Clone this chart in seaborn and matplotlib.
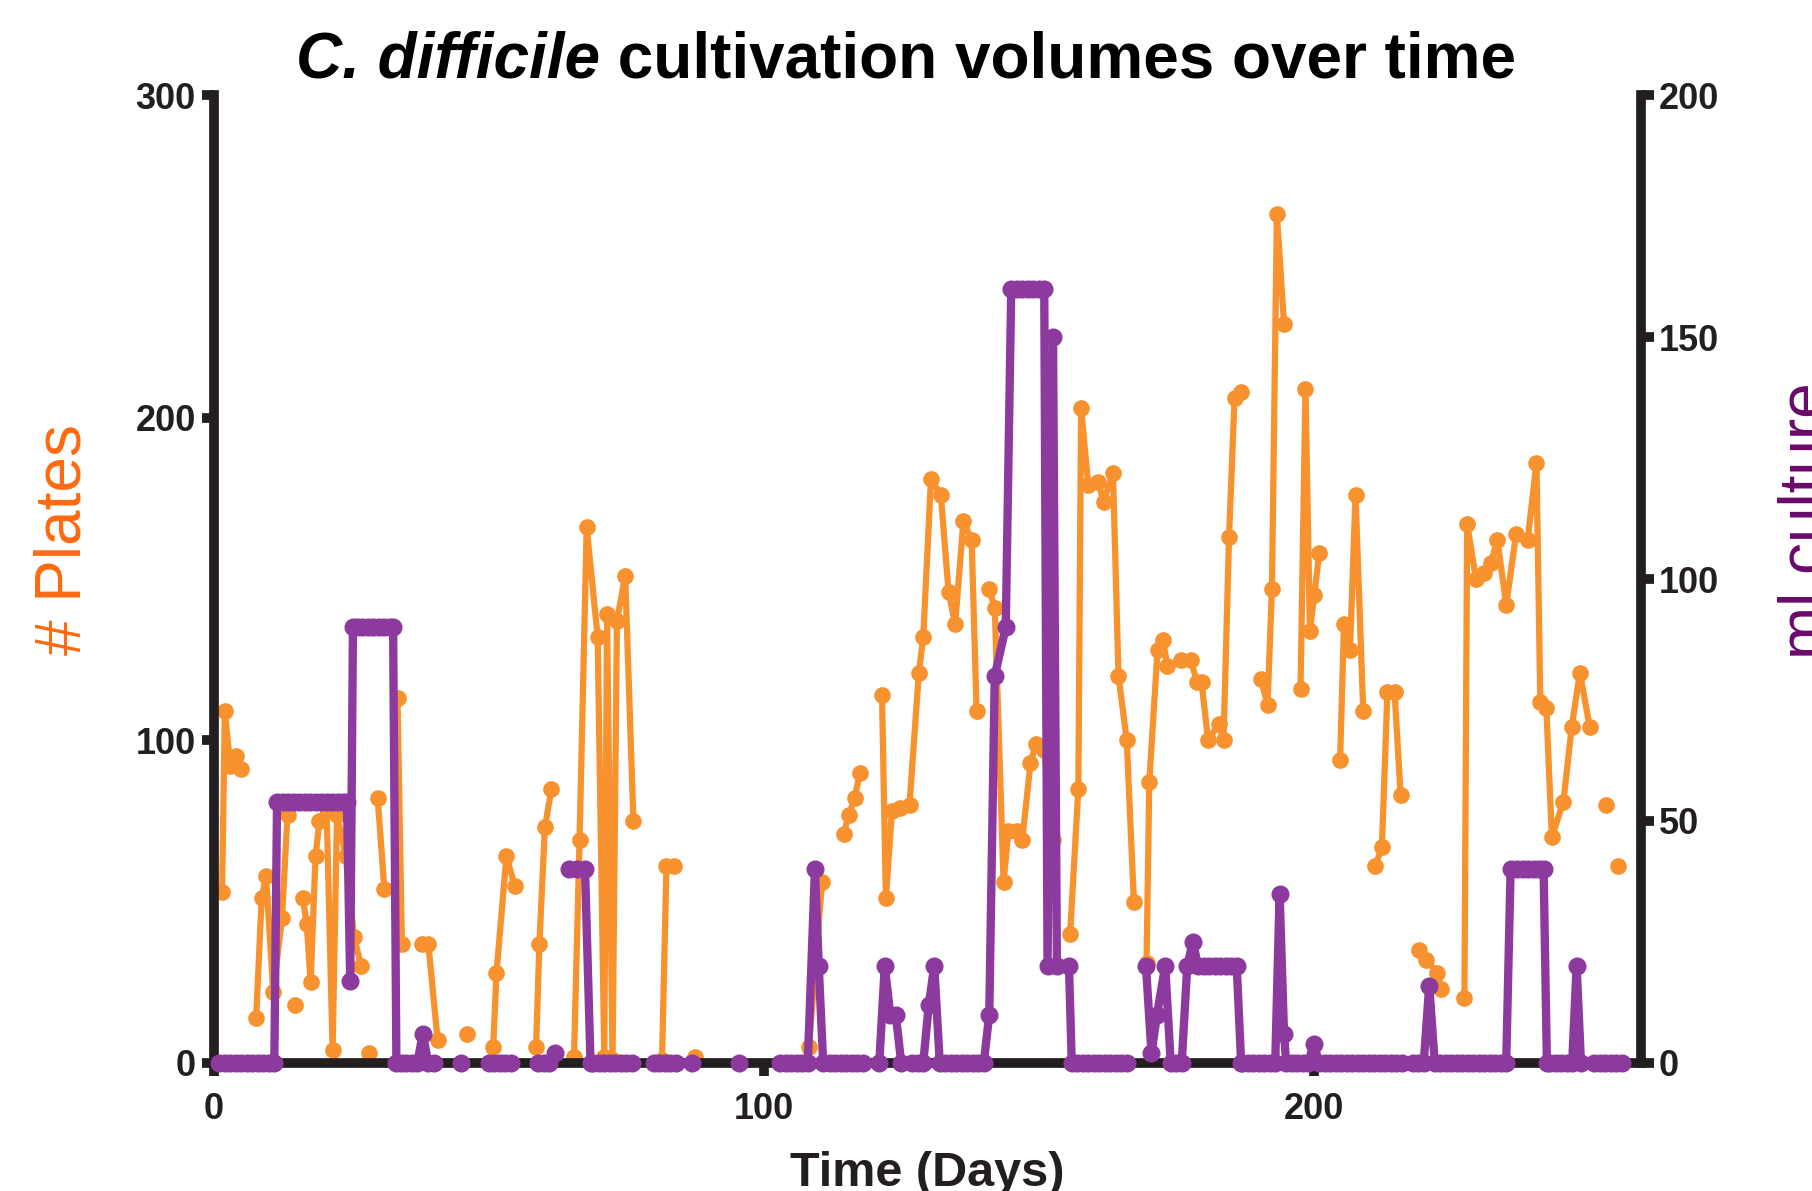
import matplotlib
matplotlib.use("Agg")
import matplotlib.pyplot as plt
import numpy as np
import pandas as pd
import seaborn as sns

nan = float("nan")

# ---------------- data ----------------
plate_days = [1.5, 2, 3, 4, 5, 6, 7.7, 8.7, 9.5, 10.8, 12.4, 13.4, 14, 14.8, 15.3,
              16.2, 16.9, 17.6, 18.5, 19.2, 20.5, 21.6, 22.4, 24, 25.5, 26.8, 27.2,
              28.3, 28.8, 29.8, 31, 32, 33.4, 34.2, 35, 37.8, 39, 40.7, 41.5, 46, 47,
              50.8, 51.4, 53.2, 54.7, 55.5, 58.6, 59.2, 60.2, 61.4, 62, 65.5, 66.5,
              67.8, 69.8, 71, 71.5, 72.5, 73.3, 74.8, 76.3, 77, 81.5, 82.3, 83.6, 84.5,
              87.5, 88, 108.2, 110.6, 111.2, 114.5, 115.5, 116.5, 117.5, 118.2, 121.5,
              122.2, 123.3, 124.7, 126.5, 128.2, 129, 130.4, 132.2, 133.6, 134.8, 136.3,
              137.8, 138.7, 139.5, 141, 142, 143.6, 144.5, 146, 147, 148.5, 149.5, 151,
              152.6, 153.3, 155.7, 157.2, 157.7, 159, 160.8, 161.8, 163.5, 164.5, 166,
              167.3, 168, 169.6, 170.1, 171.6, 172.6, 173.4, 175.8, 177.6, 178.8, 179.6,
              180.8, 182.7, 183.6, 184.6, 185.6, 186.8, 187.5, 190.4, 191.6, 192.4,
              193.3, 194.6, 195.5, 197.6, 198.5, 199.3, 200.1, 201, 202, 204.8, 205.5,
              206.6, 207.6, 209, 210, 211.2, 212.4, 213.4, 214.7, 215.8, 216.5, 219.2,
              220.4, 222.5, 223.2, 224, 227.4, 227.9, 229.5, 231, 232.2, 233.4, 235,
              236.8, 238.9, 240.5, 241.2, 242.3, 243.3, 245.4, 246.9, 248.4, 250.2, 251,
              253.2, 254, 255.4]
plates = [53, 109, 92, 95, 91, nan, 14, 51, 58, 22, 45, 77, nan, 18, nan,
          51, 43, 25, 64, 75, 79, 4, 77, 64, 39, 30, nan,
          3, nan, 82, 54, nan, 113, 37, nan, 37, 37, 7, nan, 9, nan,
          5, 28, 64, 55, nan, 5, 37, 73, 85, nan, 2, 69,
          166, 132, 2, 139, 1, 137, 151, 75, nan, 1, 61, 61, nan,
          2, nan, 5, 56, nan, 71, 77, 82, 90, nan, 114,
          51, 78, 79, 80, 121, 132, 181, 176, 146, 136, 168,
          162, 109, nan, 147, 141, 56, 72, 72, 69, 93, 99, 97,
          69, nan, 40, 85, 203, 179, 180, 174, 183, 120, 100,
          50, nan, 31, 87, 128, 131, 123, 125, 125, 118, 118,
          100, 105, 100, 163, 206, 208, nan, 119, 111, 147,
          263, 229, nan, 116, 209, 134, 145, 158, nan, 94, 136,
          128, 176, 109, nan, 61, 67, 115, 115, 83, nan, 35,
          32, 28, 23, nan, 20, 167, 150, 152, 155, 162, 142,
          164, 162, 186, 112, 110, 70, 81, 104, 121, 104, nan,
          80, nan, 61]

ml_days = [1, 2, 3, 4, 5, 6, 7, 8, 9, 10, 11, 11.5, 12.5, 13.5, 14.5, 15.5, 16.5,
           17.5, 18.5, 19.5, 20.5, 21.5, 22.5, 23.5, 24.2, 24.8, 25.3, 26, 27, 28,
           29, 30, 31, 32, 32.6, 33.2, 34, 35, 36, 37, 38, 39, 40, 41, 45, 46,
           50, 51, 52, 53, 54, 55, 59, 60, 61, 62, 63, 64.5, 66, 67.5, 68.5, 69,
           70, 71, 72, 73, 74, 75, 76, 77, 80, 81, 82, 83, 84, 85, 87, 88, 95.5, 96,
           103, 104, 105, 106, 107, 108, 109.3, 110, 110.8, 112, 113, 114, 115, 116,
           117, 118, 119, 121, 122, 123, 124, 125, 126, 127, 128, 129, 130, 131, 132,
           133, 134, 135, 136, 137, 138, 139, 140, 141, 142, 144, 145, 146, 147, 148,
           149, 150, 151, 151.6, 152.6, 153.3, 155.5, 156, 157, 158, 159, 160, 161,
           162, 163, 164, 165, 166, 167, 169.5, 170.5, 171.5, 173, 174, 175, 176, 177,
           178, 179, 180, 181, 182, 183, 184, 185, 186, 186.8, 187, 188, 189, 190,
           191, 192, 193, 193.8, 194.6, 195, 196, 197, 198, 199, 200, 201, 202, 203,
           204, 205, 206, 207, 208, 209, 210, 211, 212, 213, 214, 215, 216, 217, 218,
           219, 220, 221, 222, 223, 224, 225, 226, 227, 228, 229, 230, 231, 232, 233,
           234, 235, 235.8, 237, 238, 239, 240, 241, 241.8, 242.4, 243, 244, 245, 246,
           247, 247.8, 248.6, 249.5, 251, 252, 253, 254, 255, 256]
ml_culture = [0, 0, 0, 0, 0, 0, 0, 0, 0, 0, 0, 54, 54, 54, 54, 54, 54,
              54, 54, 54, 54, 54, 54, 54, 54, 17, 90, 90, 90, 90,
              90, 90, 90, 90, 90, 0, 0, 0, 0, 0, 6, 0, 0, nan, 0, nan,
              0, 0, 0, 0, 0, nan, 0, 0, 0, 2, nan, 40, 40, 40, 0, 0,
              0, 0, 0, 0, 0, 0, 0, nan, 0, 0, 0, 0, 0, nan, 0, nan, 0, nan,
              0, 0, 0, 0, 0, 0, 40, 20, 0, 0, 0, 0, 0, 0,
              0, 0, nan, 0, 20, 10, 10, 0, nan, 0, 0, 0, 12, 20, 0,
              0, 0, 0, 0, 0, 0, 0, 0, 10, 80, 90, 160, 160, 160, 160,
              160, 160, 160, 20, 150, 20, 20, 0, 0, 0, 0, 0, 0,
              0, 0, 0, 0, 0, nan, 20, 2, 10, 20, 0, 0, 0, 20,
              25, 20, 20, 20, 20, 20, 20, 20, 20, 0, 0, 0, 0, 0,
              0, 0, 0, 35, 6, 0, 0, 0, 0, 0, 4, 0, 0, 0,
              0, 0, 0, 0, 0, 0, 0, 0, 0, 0, 0, 0, 0, nan, 0,
              0, 0, 16, 0, 0, 0, 0, 0, 0, 0, 0, 0, 0, 0, 0,
              0, 0, 40, 40, 40, 40, 40, 40, 40, 0, 0, 0, 0, 0,
              0, 20, 0, nan, 0, 0, 0, 0, 0, 0]

title_italic = "C. difficile"
title_rest = " cultivation volumes over time"
x_label = "Time (Days)"
left_label = "# Plates"
right_label = "ml culture"
x_ticks = [0, 100, 200]
left_ticks = [0, 100, 200, 300]
right_ticks = [0, 50, 100, 150, 200]


def segmented(days, vals):
    df = pd.DataFrame({"day": days, "val": vals})
    df["seg"] = df["val"].isna().cumsum()
    return df.dropna().reset_index(drop=True)


# ---------------- style ----------------
sns.set_theme(style="white")
plt.rcParams["font.family"] = ["Liberation Sans", "DejaVu Sans"]

ORANGE = "#F7922F"
PURPLE = "#8C3A9D"
AXC = "#231F20"
SPW = 7.0

fig = plt.figure(figsize=(18.12, 11.91), dpi=100)
fig.patch.set_facecolor("white")
ax = fig.add_axes([0.118, 0.1075, 0.7876, 0.8127])

dfp = segmented(plate_days, plates)
sns.lineplot(data=dfp, x="day", y="val", units="seg", estimator=None, sort=False,
             color=ORANGE, marker="o", markersize=12, markeredgewidth=0,
             linewidth=4.5, legend=False, ax=ax)

ax2 = ax.twinx()
dfm = segmented(ml_days, ml_culture)
sns.lineplot(data=dfm, x="day", y="val", units="seg", estimator=None, sort=False,
             color=PURPLE, marker="o", markersize=13, markeredgewidth=0,
             linewidth=6.0, legend=False, ax=ax2)

for a in (ax, ax2):
    for ln in a.lines:
        ln.set_clip_on(False)

ax.set_xlim(0, 259.5)
ax.set_ylim(0, 300)
ax2.set_ylim(0, 200)

ax.set_xticks(x_ticks)
ax.set_yticks(left_ticks)
ax2.set_yticks(right_ticks)

for s in ("top", "right"):
    ax.spines[s].set_visible(False)
for s in ("left", "bottom"):
    ax.spines[s].set_linewidth(SPW)
    ax.spines[s].set_color(AXC)
for s in ("top", "left", "bottom"):
    ax2.spines[s].set_visible(False)
ax2.spines["right"].set_linewidth(SPW)
ax2.spines["right"].set_color(AXC)

ax.tick_params(axis="both", direction="out", length=9, width=SPW, color=AXC,
               labelsize=26, labelcolor=AXC, pad=4)
ax.tick_params(axis="x", bottom=True, pad=12)
ax.tick_params(axis="y", left=True)
ax2.tick_params(axis="y", direction="out", length=9, width=SPW, color=AXC,
                labelsize=26, labelcolor=AXC, pad=4, right=True)
for lab in ax.get_xticklabels() + ax.get_yticklabels() + ax2.get_yticklabels():
    lab.set_fontweight("bold")

ax.set_ylabel("")
ax2.set_ylabel("")
ax.set_xlabel(x_label, fontsize=35, fontweight="bold", color=AXC, labelpad=17)

fig.text(0.035, 0.547, left_label, rotation=90, ha="center", va="center",
         fontsize=46, color="#FF6A10")
fig.text(0.981, 0.563, right_label, rotation=90, ha="left", va="center",
         fontsize=46, color="#6A0A6A")

# title: italic part + regular part, centred together
fs = 46
ty = 0.949
t1 = fig.text(0, ty, title_italic, fontsize=fs, fontweight="bold", style="italic",
              ha="left", va="center", color="black")
t2 = fig.text(0, ty, title_rest, fontsize=fs, fontweight="bold",
              ha="left", va="center", color="black")
fig.canvas.draw()
r = fig.canvas.get_renderer()
w1 = t1.get_window_extent(r).width
w2 = t2.get_window_extent(r).width
W = fig.bbox.width
x0 = 0.5 - (w1 + w2) / 2 / W
t1.set_x(x0)
t2.set_x(x0 + w1 / W)

fig.savefig("out.png", dpi=100)
